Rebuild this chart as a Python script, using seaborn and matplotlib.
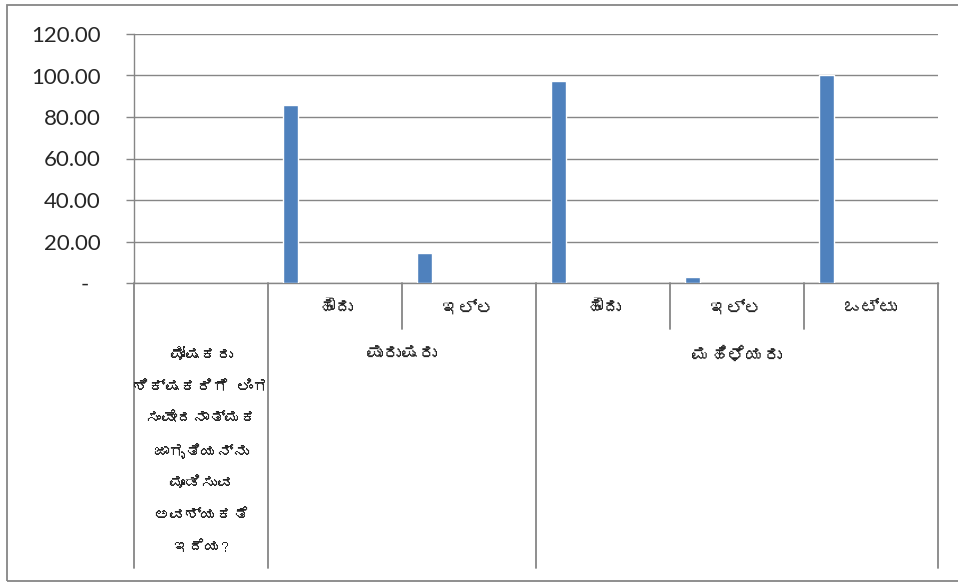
# Bar chart with an Excel-style two-level category axis (Kannada labels)

import numpy as np
import pandas as pd
import seaborn as sns
import matplotlib.pyplot as plt
import matplotlib.transforms as mtransforms
from matplotlib import font_manager
from matplotlib.ft2font import FT2Font
from matplotlib.patches import Rectangle


# Data
sub_labels = ['', 'ಹೌದು', 'ಇಲ್ಲ', 'ಹೌದು', 'ಇಲ್ಲ', 'ಒಟ್ಟು']
values = [np.nan, 85.71, 14.29, 97.14, 2.86, 100.00]
group_labels = ['ಪುರುಷರು', 'ಮಹಿಳೆಯರು']
group_spans = [(1, 2), (3, 5)]
question_lines = ['ಪೋಷಕರು', 'ಶಿಕ್ಷಕರಿಗೆ ಲಿಂಗ', 'ಸಂವೇದನಾತ್ಮಕ', 'ಜಾಗೃತಿಯನ್ನು',
                  'ಮೂಡಿಸುವ', 'ಅವಶ್ಯಕತೆ', 'ಇದೆಯ?']
y_ticks = [0, 20, 40, 60, 80, 100, 120]
y_tick_labels = ['-  ', '20.00', '40.00', '60.00', '80.00', '100.00', '120.00']


# Look for an installed font that has Kannada glyphs
def find_font(ch):
    for f in font_manager.fontManager.ttflist:
        try:
            if ord(ch) in FT2Font(f.fname).get_charmap():
                return f.name
        except Exception:
            pass
    return None


kn_font = find_font('ಕ')
kn_family = [kn_font, 'DejaVu Sans'] if kn_font else ['DejaVu Sans']

grid_col = '#868686'
bar_col = '#4F81BD'

sns.set_style('white')
plt.rcParams['font.family'] = ['Lato', 'DejaVu Sans']

W, H = 958, 582
fig = plt.figure(figsize=(W / 100, H / 100), dpi=100)
ax = fig.add_axes([134 / W, 1 - 283 / H, (938 - 134) / W, (283 - 34) / H])

# 8 series per category in the original, only the first one filled -> bar at the left of each slot
n_slots = 9
df = pd.DataFrame({'pos': np.arange(len(values)) - 0.5 + 1.5 / n_slots, 'valor': values}).dropna()
sns.barplot(data=df, x='pos', y='valor', native_scale=True, width=1 / n_slots,
            color=bar_col, saturation=1, ax=ax, zorder=3)

ax.set_xlim(-0.5, len(values) - 0.5)
ax.set_ylim(0, 120)
ax.set_yticks(y_ticks)
ax.set_yticklabels(y_tick_labels, fontsize=16)
ax.set_xticks([])
ax.set_xlabel('')
ax.set_ylabel('')
ax.yaxis.grid(True, color=grid_col, linewidth=1)
ax.tick_params(axis='y', length=6, width=1, color=grid_col, direction='out', pad=18, left=True)
for s in ['top', 'right']:
    ax.spines[s].set_visible(False)
for s in ['left', 'bottom']:
    ax.spines[s].set_color(grid_col)
    ax.spines[s].set_linewidth(1)

# Category table below the axis (x in data, y in figure pixels)
tr = mtransforms.blended_transform_factory(ax.transData, fig.transFigure)
fy = lambda px: 1 - px / H
n = len(values)
for b in np.arange(n + 1) - 0.5:
    long_line = b in (-0.5, 0.5, 2.5, n - 0.5)
    y_end = 568 if long_line else 329
    ax.plot([b, b], [fy(283), fy(y_end)], transform=tr, color=grid_col, lw=1.3,
            clip_on=False)

for i, lab in enumerate(sub_labels):
    if lab:
        ax.text(i, fy(308), lab, transform=tr, ha='center', va='center',
                fontsize=13, family=kn_family)
for lab, (a, b) in zip(group_labels, group_spans):
    ax.text((a + b) / 2, fy(355), lab, transform=tr, ha='center', va='center',
            fontsize=13, family=kn_family)
for k, line in enumerate(question_lines):
    ax.text(0, fy(355 + 32 * k), line, transform=tr, ha='center', va='center',
            fontsize=11.5, family=kn_family)

# chart border
fig.patches.append(Rectangle((7 / W, 1 / H), 1, 576.5 / H, transform=fig.transFigure,
                             fill=False, edgecolor=grid_col, lw=1.3))

plt.savefig('out.png', dpi=100)
